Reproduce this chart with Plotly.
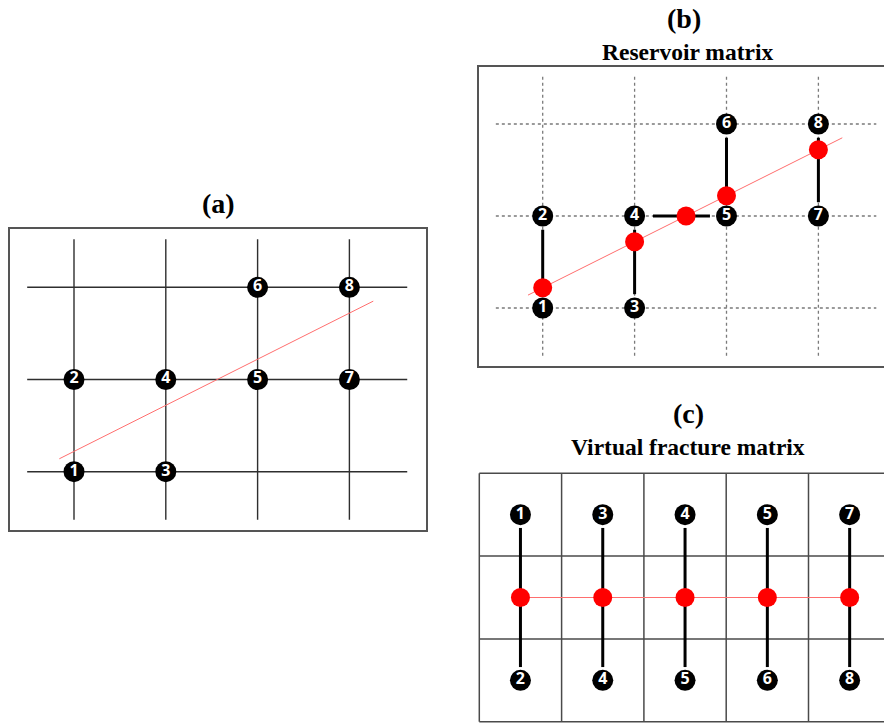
import plotly.graph_objects as go

# ---------------- data ----------------
node_labels = ["1", "2", "3", "4", "5", "6", "7", "8"]
node_col = [0, 0, 1, 1, 2, 2, 3, 3]
node_row = [0, 1, 0, 1, 1, 2, 1, 2]

grid_cols = [0, 1, 2, 3]
grid_rows = [0, 1, 2]
vline_span = [-0.52, 2.52]   # row extent of vertical grid lines
hline_span = [-0.51, 3.63]   # column extent of horizontal grid lines

fracture_x = [-0.16, 3.26]
fracture_y = [0.14, 1.85]

b_pairs = [("2", "1"), ("4", "3"), ("4", "5"), ("6", "5"), ("8", "7")]
b_hit_x = [0, 1, 1.56, 2, 3]
b_hit_y = [0.22, 0.72, 1.0, 1.22, 1.72]

c_top_labels = ["1", "3", "4", "5", "7"]
c_bottom_labels = ["2", "4", "5", "6", "8"]
c_cols = [0.5, 1.5, 2.5, 3.5, 4.5]
c_top_row = 2.5
c_bottom_row = 0.5
c_hit_row = 1.5
c_cell_cols = [0, 1, 2, 3, 4, 5]
c_cell_rows = [0, 1, 2, 3]

# ---------------- layout geometry (pixels) ----------------
W, H = 884, 723
panels = {
    # name: (origin px x, origin px y, px per unit x, px per unit y, left, right, top, bottom)
    "a": (74.0, 471.7, 91.8, 92.2, 10.0, 426.0, 229.3, 530.0),
    "b": (542.7, 308.0, 91.9, 92.0, 479.3, 884.0, 66.7, 366.0),
    "c": (479.3, 721.7, 82.3, 82.8, 476.0, 884.0, 470.0, 723.0),
}

NODE_FONT = dict(family="Open Sans, sans-serif", size=16, color="white")
NODE_SIZE = 21
HIT_SIZE = 19
RED = "#FF0000"

fig = go.Figure()


def add_lines(xs_list, ys_list, axis, color, width, dash="solid"):
    xs, ys = [], []
    for x, y in zip(xs_list, ys_list):
        xs += list(x) + [None]
        ys += list(y) + [None]
    fig.add_trace(go.Scatter(x=xs, y=ys, mode="lines", xaxis=axis[0], yaxis=axis[1],
                             line=dict(color=color, width=width, dash=dash),
                             hoverinfo="skip", showlegend=False))


def add_nodes(xs, ys, labels, axis):
    fig.add_trace(go.Scatter(x=xs, y=ys, mode="markers+text", xaxis=axis[0], yaxis=axis[1],
                             marker=dict(size=NODE_SIZE, color="black"),
                             text=["<b>%s</b>" % t for t in labels],
                             textposition="middle center", textfont=NODE_FONT,
                             cliponaxis=False, hoverinfo="skip", showlegend=False))


def add_hits(xs, ys, axis):
    fig.add_trace(go.Scatter(x=xs, y=ys, mode="markers", xaxis=axis[0], yaxis=axis[1],
                             marker=dict(size=HIT_SIZE, color=RED),
                             cliponaxis=False, hoverinfo="skip", showlegend=False))


# ---------------- panel (a) ----------------
A = ("x", "y")
add_lines([(c, c) for c in grid_cols], [vline_span for _ in grid_cols], A, "#2e2e2e", 1.4)
add_lines([hline_span for _ in grid_rows], [(r, r) for r in grid_rows], A, "#2e2e2e", 1.4)
add_lines([fracture_x], [fracture_y], A, "#FF6E6E", 1)
add_nodes(node_col, node_row, node_labels, A)

# ---------------- panel (b) ----------------
B = ("x2", "y2")
add_lines([(c, c) for c in grid_cols], [vline_span for _ in grid_cols], B, "#7a7a7a", 1.3, "dot")
add_lines([hline_span for _ in grid_rows], [(r, r) for r in grid_rows], B, "#7a7a7a", 1.3, "dot")
add_lines([fracture_x], [fracture_y], B, "#FF6E6E", 1)
pos = {l: (c, r) for l, c, r in zip(node_labels, node_col, node_row)}
seg_x, seg_y = [], []
for p, q in b_pairs:
    (x0, y0), (x1, y1) = pos[p], pos[q]
    if x0 == x1:
        s = 1 if y1 > y0 else -1
        seg_x.append((x0, x1))
        seg_y.append((y0 + 0.15 * s, y1 - 0.15 * s))
    else:
        s = 1 if x1 > x0 else -1
        seg_x.append((x0 + 0.2 * s, x1 - 0.18 * s))
        seg_y.append((y0, y1))
add_lines(seg_x, seg_y, B, "black", 3)
add_hits(b_hit_x, b_hit_y, B)
add_nodes(node_col, node_row, node_labels, B)

# ---------------- panel (c) ----------------
C = ("x3", "y3")
add_lines([(c, c) for c in c_cell_cols], [(c_cell_rows[0], c_cell_rows[-1]) for _ in c_cell_cols],
          C, "#4a4a4a", 1.5)
add_lines([(c_cell_cols[0], c_cell_cols[-1]) for _ in c_cell_rows], [(r, r) for r in c_cell_rows],
          C, "#4a4a4a", 1.5)
add_lines([(c_cols[0], c_cols[-1])], [(c_hit_row, c_hit_row)], C, "#FF6E6E", 1)
add_lines([(c, c) for c in c_cols], [(c_top_row - 0.16, c_bottom_row + 0.16) for _ in c_cols], C, "black", 3)
add_hits(c_cols, [c_hit_row] * len(c_cols), C)
add_nodes(c_cols, [c_top_row] * len(c_cols), c_top_labels, C)
add_nodes(c_cols, [c_bottom_row] * len(c_cols), c_bottom_labels, C)

# ---------------- axes ----------------
layout_axes = {}
for key, xa, ya in (("a", "xaxis", "yaxis"), ("b", "xaxis2", "yaxis2"), ("c", "xaxis3", "yaxis3")):
    ox, oy, sx, sy, left, right, top, bottom = panels[key]
    xr = [(left - ox) / sx, (right - ox) / sx]
    yr = [(oy - bottom) / sy, (oy - top) / sy]
    anchor_y = ya.replace("axis", "")
    anchor_x = xa.replace("axis", "")
    border = key != "c"
    layout_axes[xa] = dict(domain=[left / W, right / W], range=xr, anchor=anchor_y,
                           showgrid=False, zeroline=False, showticklabels=False, ticks="",
                           showline=border, mirror=border, linecolor="#555555", linewidth=1.5,
                           fixedrange=True)
    layout_axes[ya] = dict(domain=[1 - bottom / H, 1 - top / H], range=yr, anchor=anchor_x,
                           showgrid=False, zeroline=False, showticklabels=False, ticks="",
                           showline=border, mirror=(key == "a"), linecolor="#555555", linewidth=1.5,
                           fixedrange=True)

TITLE_FONT = dict(family="Liberation Serif, Times New Roman, serif", color="black")
titles = [
    ("<b>(a)</b>", 218, 203, 28),
    ("<b>(b)</b>", 684, 18, 28),
    ("<b>Reservoir matrix</b>", 687, 52, 23.5),
    ("<b>(c)</b>", 688, 413, 28),
    ("<b>Virtual fracture matrix</b>", 688, 447, 23.5),
]
annotations = [dict(text=t, x=x / W, y=1 - y / H, xref="paper", yref="paper",
                    xanchor="center", yanchor="middle", showarrow=False,
                    font=dict(size=s, **TITLE_FONT))
               for t, x, y, s in titles]

fig.update_layout(width=W, height=H, margin=dict(l=0, r=0, t=0, b=0),
                  paper_bgcolor="white", plot_bgcolor="white",
                  showlegend=False, annotations=annotations, **layout_axes)

fig.write_html("out.html")
